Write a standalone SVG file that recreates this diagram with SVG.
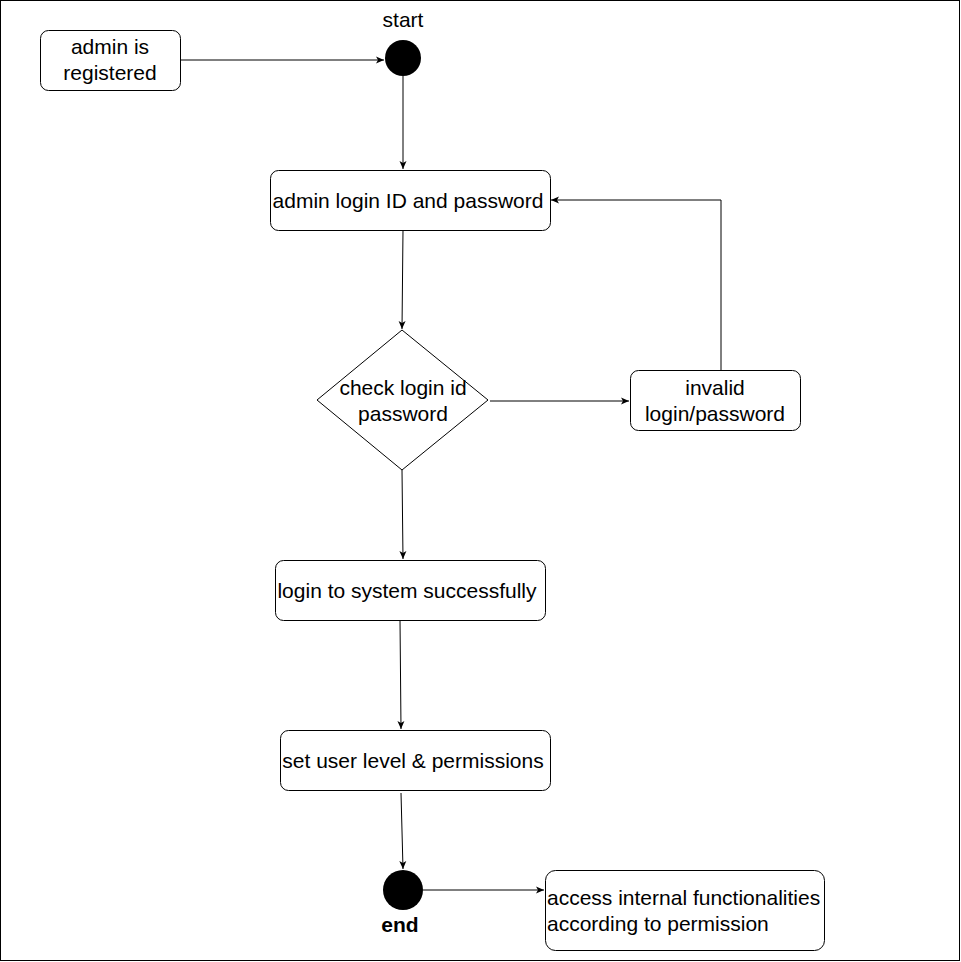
<svg xmlns="http://www.w3.org/2000/svg" width="961" height="962" viewBox="0 0 961 962">
<style>
.box{fill:#fff;stroke:#000;stroke-width:1}
.t{font-family:"Liberation Sans",Arial,sans-serif;font-size:21px;fill:#000}
.c{text-anchor:middle}
.e{fill:none;stroke:#000;stroke-width:1}
</style>
<defs>
<marker id="a" markerWidth="10" markerHeight="10" refX="9" refY="5" orient="auto" markerUnits="userSpaceOnUse">
<path d="M1,1.5 L9,5 L1,8.5 L3,5 Z" fill="#000"/>
</marker>
</defs>
<rect x="0.5" y="0.5" width="959" height="960" fill="#fff" stroke="#000"/>
<g id="connectors">
<path class="e" d="M180,60 H384" marker-end="url(#a)"/>
<path class="e" d="M403,76 V169" marker-end="url(#a)"/>
<path class="e" d="M403,230 L402,329" marker-end="url(#a)"/>
<path class="e" d="M490,401 H629" marker-end="url(#a)"/>
<path class="e" d="M721,370 V200 H551" marker-end="url(#a)"/>
<path class="e" d="M402,470 L403,559" marker-end="url(#a)"/>
<path class="e" d="M400,620 L401,729" marker-end="url(#a)"/>
<path class="e" d="M401,793 L403,869" marker-end="url(#a)"/>
<path class="e" d="M423,890 H544" marker-end="url(#a)"/>
</g>
<g id="admin-registered">
<rect class="box" x="40.5" y="30.5" width="140" height="60" rx="8"/>
<text class="t c" x="110" y="54">admin is</text>
<text class="t c" x="110" y="80">registered</text>
</g>
<g id="start">
<circle cx="403" cy="58" r="18" fill="#000"/>
<text class="t c" x="403" y="27" font-size="20">start</text>
</g>
<g id="login-input">
<rect class="box" x="270.5" y="170.5" width="280" height="60" rx="8"/>
<text class="t c" x="408" y="208">admin login ID and password</text>
</g>
<g id="check">
<path class="box" d="M402,330 L488,400 L402,470 L317,400 Z"/>
<text class="t c" x="403" y="395">check login id</text>
<text class="t c" x="403" y="421">password</text>
</g>
<g id="invalid">
<rect class="box" x="630.5" y="370.5" width="170" height="60" rx="8"/>
<text class="t c" x="715" y="395">invalid</text>
<text class="t c" x="715" y="421">login/password</text>
</g>
<g id="success">
<rect class="box" x="275.5" y="560.5" width="270" height="60" rx="8"/>
<text class="t c" x="407" y="598">login to system successfully</text>
</g>
<g id="set-level">
<rect class="box" x="280.5" y="730.5" width="270" height="60" rx="8"/>
<text class="t c" x="413" y="768">set user level &amp; permissions</text>
</g>
<g id="end">
<circle cx="403" cy="890" r="20" fill="#000"/>
<text class="t c" x="400" y="932" font-weight="bold" font-size="19">end</text>
</g>
<g id="access">
<rect class="box" x="545.5" y="870.5" width="279" height="80" rx="10"/>
<text class="t" x="547" y="905">access internal functionalities</text>
<text class="t" x="547" y="931">according to permission</text>
</g>
</svg>
